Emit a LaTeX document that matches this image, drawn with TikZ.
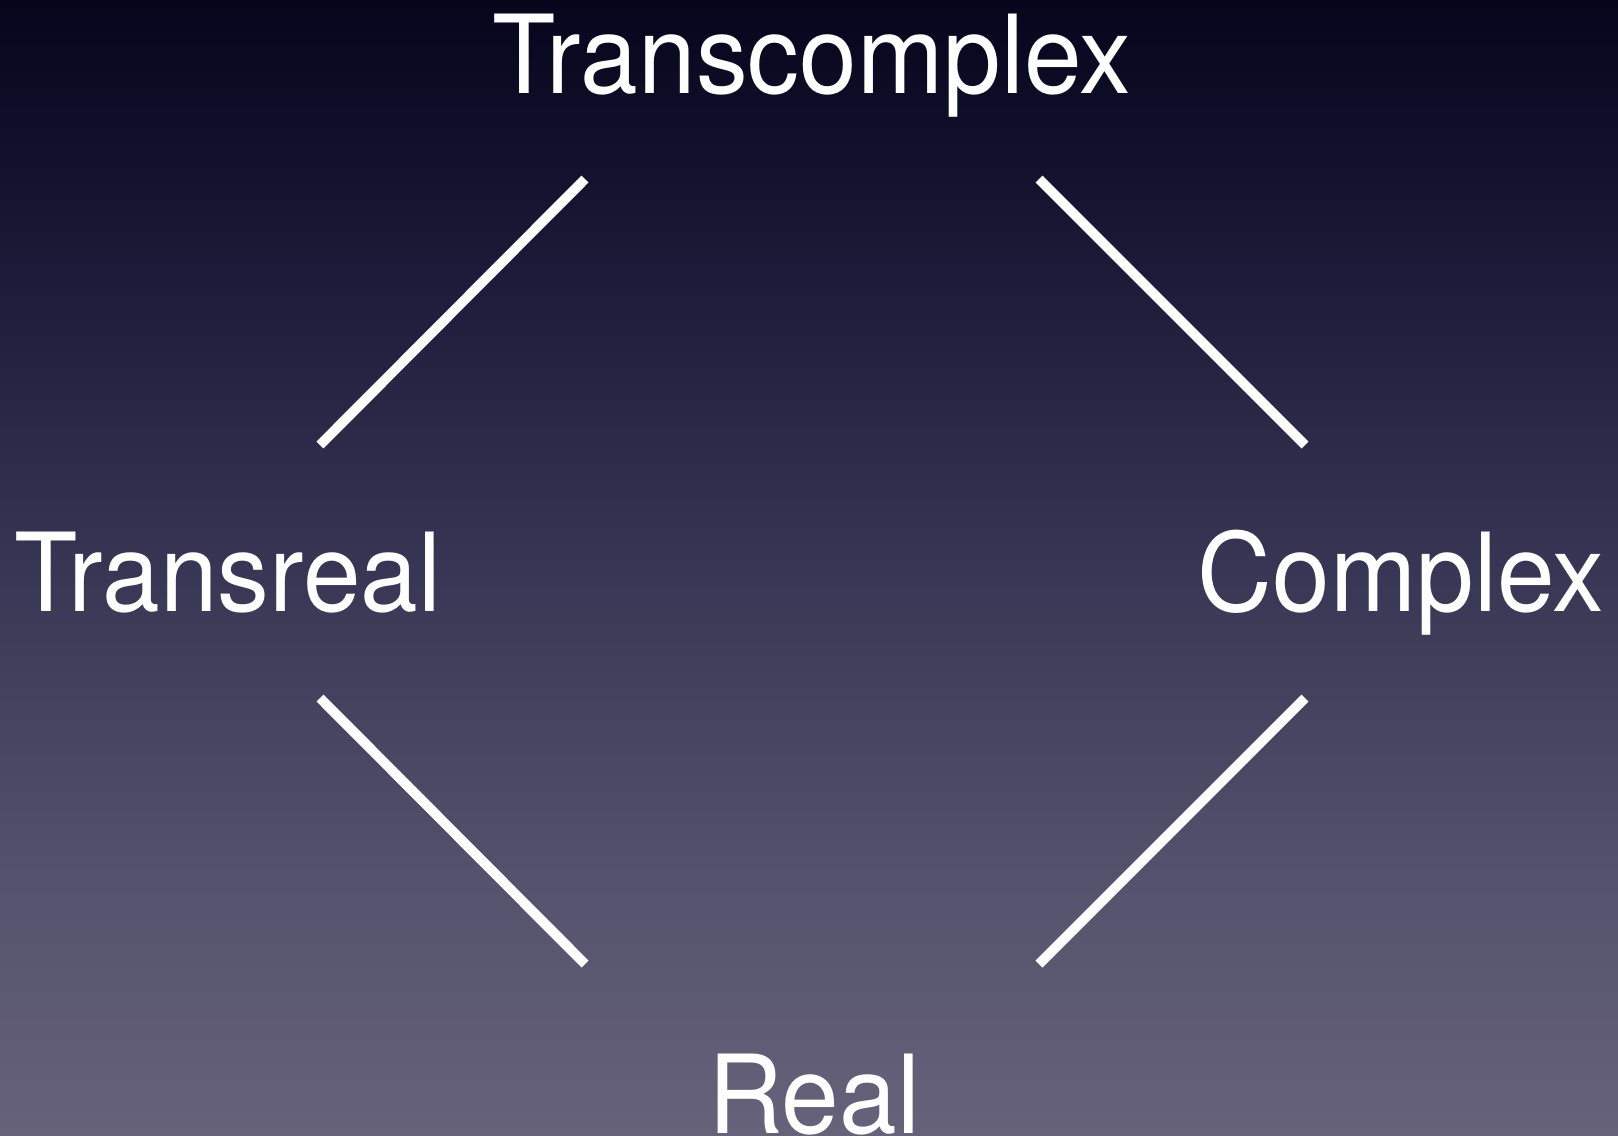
\documentclass[tikz,border=0pt]{standalone}
\usepackage{fontspec}
\setmainfont{TeX Gyre Heros}[FakeStretch=0.95]
\definecolor{bgA}{RGB}{6,5,28}
\definecolor{bgB}{RGB}{27,26,56}
\definecolor{bgC}{RGB}{56,54,84}
\definecolor{bgD}{RGB}{84,81,108}
\definecolor{bgE}{RGB}{102,98,122}
\tikzset{
  lbl/.style={text=white, anchor=base, inner sep=0pt, font=\fontsize{31}{37}\selectfont},
  edge/.style={draw=white, line width=2.8pt, line cap=butt}
}
\begin{document}
\begin{tikzpicture}[x=0.01cm, y=-0.01cm]
\useasboundingbox (0,0) rectangle (1618,1135);
\shade[top color=bgA, bottom color=bgB] (0,0) rectangle (1618,271);
\shade[top color=bgB, bottom color=bgC] (0,270) rectangle (1618,571);
\shade[top color=bgC, bottom color=bgD] (0,570) rectangle (1618,871);
\shade[top color=bgD, bottom color=bgE] (0,870) rectangle (1618,1135);
\node[lbl] (tc) at (812,93) {Transcomplex};
\node[lbl] (tr) at (228,611) {Transreal};
\node[lbl] (cx) at (1401,611) {Complex};
\node[lbl] (re) at (814,1133) {Real};
\coordinate (a1) at (320,445); \coordinate (a2) at (585,179);
\coordinate (b1) at (1039,179); \coordinate (b2) at (1305,445);
\coordinate (c1) at (320,698); \coordinate (c2) at (585,964);
\coordinate (d1) at (1039,964); \coordinate (d2) at (1305,698);
\draw[edge] (a1) -- (a2);
\draw[edge] (b1) -- (b2);
\draw[edge] (c1) -- (c2);
\draw[edge] (d1) -- (d2);
\end{tikzpicture}
\end{document}
